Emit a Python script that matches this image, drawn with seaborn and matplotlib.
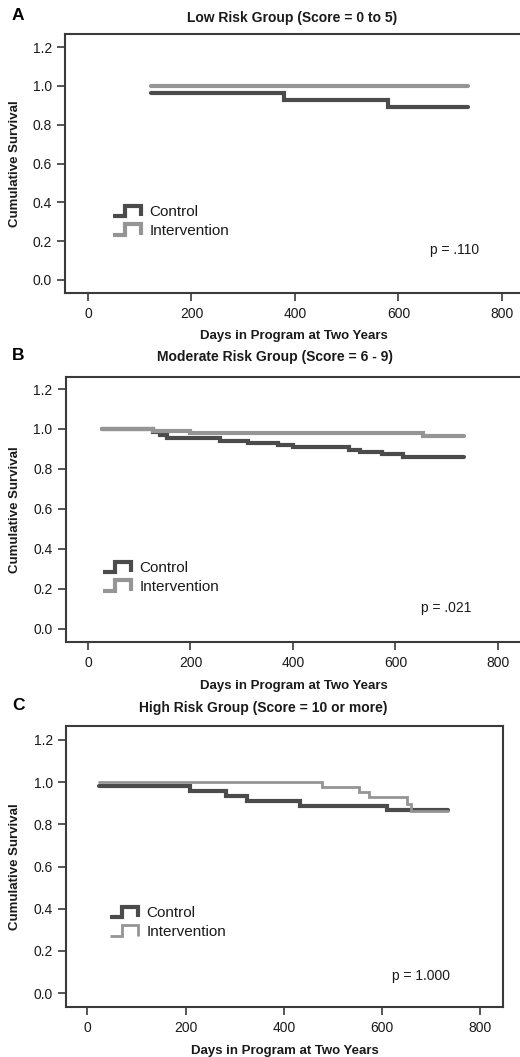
import numpy as np
import pandas as pd
import matplotlib
matplotlib.use("Agg")
import matplotlib.pyplot as plt
import seaborn as sns
from matplotlib.lines import Line2D
from matplotlib.legend_handler import HandlerBase

# ---------------- data ----------------
groups = ["Control", "Intervention"]
titles = ["Low Risk Group (Score = 0 to 5)",
          "Moderate Risk Group (Score = 6 - 9)",
          "High Risk Group (Score = 10 or more)"]
panel_letters = ["A", "B", "C"]
p_values = ["p = .110", "p = .021", "p = 1.000"]
x_label = "Days in Program at Two Years"
y_label = "Cumulative Survival"
x_ticks = [0, 200, 400, 600, 800]
y_ticks = [0.0, 0.2, 0.4, 0.6, 0.8, 1.0, 1.2]

# Panel A (low risk)
a_ctrl_days = [122, 379, 580, 734]
a_ctrl_surv = [0.965, 0.929, 0.893, 0.893]
a_int_days = [122, 734]
a_int_surv = [1.0, 1.0]

# Panel B (moderate risk)
b_ctrl_days = [27, 127, 141, 155, 258, 313, 371, 400, 510, 531, 574, 615, 734]
b_ctrl_surv = [1.0, 0.985, 0.97, 0.955, 0.94, 0.93, 0.92, 0.91, 0.895, 0.885, 0.874, 0.861, 0.861]
b_int_days = [27, 127, 199, 654, 734]
b_int_surv = [1.0, 0.99, 0.98, 0.967, 0.967]

# Panel C (high risk)
c_ctrl_days = [24, 208, 283, 325, 432, 610, 734]
c_ctrl_surv = [0.98, 0.956, 0.934, 0.911, 0.889, 0.867, 0.867]
c_int_days = [24, 478, 552, 574, 651, 658, 734]
c_int_surv = [1.0, 0.977, 0.954, 0.929, 0.895, 0.861, 0.861]

# ---------------- style ----------------
sns.set_theme(style="white")
plt.rcParams["font.family"] = ["Liberation Sans", "DejaVu Sans"]

W, H = 520, 1057
fig = plt.figure(figsize=(W / 100, H / 100), dpi=100)

def fx(px):
    return px / W

def fy(py):
    return 1 - py / H

CTRL_COLOR = "#4b4b4b"
INT_COLOR = "#959595"
FRAME = "#3a3a3a"
TEXT = "#1a1a1a"


class StepHandler(HandlerBase):
    def create_artists(self, legend, orig_handle, xdescent, ydescent,
                       width, height, fontsize, trans):
        x0, y0 = -xdescent, -ydescent
        lo, hi = y0 + 0.05 * height, y0 + 0.95 * height
        xs = [x0, x0 + 0.45 * width, x0 + 0.45 * width, x0 + width, x0 + width]
        ys = [lo, lo, hi, hi, lo]
        ln = Line2D(xs, ys, color=orig_handle.get_color(),
                    lw=orig_handle.get_linewidth(),
                    solid_joinstyle="miter", solid_capstyle="butt")
        ln.set_transform(trans)
        return [ln]


panels = [
    dict(box=(65, 34, 523, 293), xlim=(-44.4, 840.6), ylim=(-0.067, 1.267),
         lw=(3.0, 3.0), leg=(113, 205), ptxt=(430, 250), title=(292, 18),
         letter=(12, 16), xlab_top=330,
         data=((a_ctrl_days, a_ctrl_surv), (a_int_days, a_int_surv))),
    dict(box=(65.7, 377, 523, 642), xlim=(-43.5, 848.8), ylim=(-0.065, 1.26),
         lw=(3.0, 3.0), leg=(103, 561), ptxt=(421, 608), title=(275, 357),
         letter=(12, 355), xlab_top=680,
         data=((b_ctrl_days, b_ctrl_surv), (b_int_days, b_int_surv))),
    dict(box=(66, 726, 503, 1007), xlim=(-43.4, 846), ylim=(-0.066, 1.266),
         lw=(3.0, 2.0), leg=(110, 906), ptxt=(392, 976), title=(263, 708),
         letter=(12, 705), xlab_top=1045,
         data=((c_ctrl_days, c_ctrl_surv), (c_int_days, c_int_surv))),
]

for i, cfg in enumerate(panels):
    l, t, r, b = cfg["box"]
    ax = fig.add_axes([fx(l), fy(b), fx(r) - fx(l), fy(t) - fy(b)])
    handles = []
    for (days, surv), name, col, lw in zip(cfg["data"], groups,
                                           [CTRL_COLOR, INT_COLOR], cfg["lw"]):
        df = pd.DataFrame({"days": days, "surv": surv})
        sns.lineplot(data=df, x="days", y="surv", ax=ax, color=col, lw=lw,
                     drawstyle="steps-post", estimator=None, sort=False,
                     solid_joinstyle="miter")
        handles.append(ax.lines[-1])
    ax.set_xlim(*cfg["xlim"])
    ax.set_ylim(*cfg["ylim"])
    ax.set_xticks(x_ticks)
    ax.set_xticklabels([str(v) for v in x_ticks])
    ax.set_yticks(y_ticks)
    ax.set_yticklabels([f"{v:.1f}" for v in y_ticks])
    ax.tick_params(axis="both", direction="out", length=6, width=1.2,
                   color=FRAME, labelsize=10, labelcolor=TEXT,
                   bottom=True, left=True)
    ax.tick_params(axis="x", pad=4)
    ax.tick_params(axis="y", pad=3.5)
    for sp in ax.spines.values():
        sp.set_color(FRAME)
        sp.set_linewidth(1.5)
        sp.set_visible(True)
    ax.set_xlabel(x_label, fontsize=9.5, fontweight="bold", color=TEXT)
    ax.set_ylabel(y_label, fontsize=9.5, fontweight="bold", color=TEXT)
    ax.xaxis.set_label_coords(0.5, 1 - (cfg["xlab_top"] - t) / (b - t))
    ax.yaxis.set_label_coords((21 - l) / (r - l), 0.5)
    ax.grid(False)

    lx, ly = cfg["leg"]
    leg = ax.legend(handles, groups, loc="upper left",
                    bbox_to_anchor=((lx - l) / (r - l), 1 - (ly - t) / (b - t)),
                    frameon=False, fontsize=11, handlelength=1.8,
                    handleheight=0.8, handletextpad=0.6, labelspacing=0.3,
                    borderpad=0, borderaxespad=0,
                    handler_map={Line2D: StepHandler()})
    for txt in leg.get_texts():
        txt.set_color(TEXT)

    px, py = cfg["ptxt"]
    fig.text(fx(px), fy(py), p_values[i], fontsize=10, color=TEXT,
             ha="left", va="center")
    tx, ty = cfg["title"]
    fig.text(fx(tx), fy(ty), titles[i], fontsize=10, fontweight="bold",
             color=TEXT, ha="center", va="center")
    ltx, lty = cfg["letter"]
    fig.text(fx(ltx), fy(lty), panel_letters[i], fontsize=12.5,
             fontweight="bold", color="black", ha="left", va="center")

fig.savefig("out.png", dpi=100, facecolor="white")
